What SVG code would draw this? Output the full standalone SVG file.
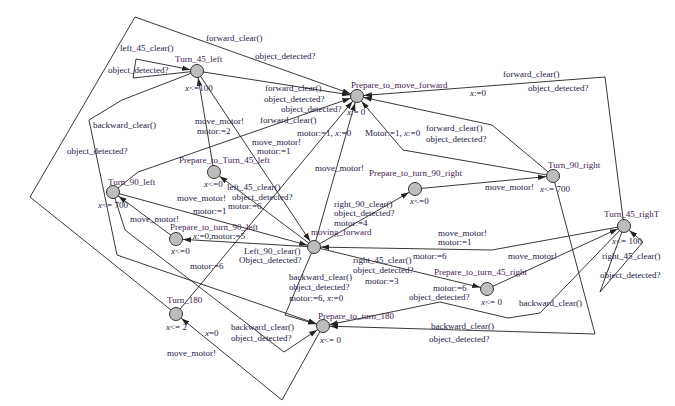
<svg xmlns="http://www.w3.org/2000/svg" width="675" height="406" viewBox="0 0 675 406">
<defs>
<marker id="a" viewBox="0 0 8 6" refX="15" refY="3" markerWidth="8" markerHeight="6" markerUnits="userSpaceOnUse" orient="auto">
<path d="M0,0.3 L8,3 L0,5.7 z" fill="#222"/>
</marker>
</defs>
<style>
.e{fill:none;stroke:#222;stroke-width:0.9;marker-end:url(#a);stroke-linejoin:round}
.n{fill:#bdbdbd;stroke:#333;stroke-width:1}
text{font-family:"Liberation Serif","DejaVu Serif",serif;font-size:9px;fill:#23213f}
.nm{fill:#43224f}
</style>
<rect width="675" height="406" fill="#fff"/>
<g id="connectors">
<path class="e" d="M197,71 L133,78 L136,59 L197,71"/>
<path class="e" d="M176,314 L30,197 L135,17 L357,96"/>
<path class="e" d="M197,71 L357,96"/>
<path class="e" d="M113,192 L138,172 L357,96"/>
<path class="e" d="M197,71 L122,100 L89,120 L117,255 L323,326"/>
<path class="e" d="M113,192 L125,230 L284,352 L323,326"/>
<path class="e" d="M176,314 L357,96"/>
<path class="e" d="M323,326 L282,400 L176,314"/>
<path class="e" d="M314,247 L357,96"/>
<path class="e" d="M553,176 L403,150 L357,96"/>
<path class="e" d="M553,176 L492,125 L357,96"/>
<path class="e" d="M624,226 L605,77 L357,96"/>
<path class="e" d="M553,176 L595,334 L323,326"/>
<path class="e" d="M624,226 L540,313 L508,318 L440,302 L323,326"/>
<path class="e" d="M624,226 L600,292 L643,242 L624,226"/>
<path class="e" d="M624,226 L492,250 L314,247"/>
<path class="e" d="M314,247 L487,289"/>
<path class="e" d="M487,289 L624,226"/>
<path class="e" d="M415,189 L553,176"/>
<path class="e" d="M314,247 L415,189"/>
<path class="e" d="M113,192 L314,247"/>
<path class="e" d="M314,247 L176,239"/>
<path class="e" d="M176,239 L113,192"/>
<path class="e" d="M214,172 L197,71"/>
<path class="e" d="M314,247 L214,172"/>
<path class="e" d="M197,71 L314,247"/>
<path class="e" d="M314,247 L285,315 L323,326"/>
</g>
<g id="edge-labels">
<text x="120" y="51">left_45_clear()</text>
<text x="108" y="73">object_detected?</text>
<text x="206" y="41">forward_clear()</text>
<text x="255" y="59">object_detected?</text>
<text x="265" y="91">forward_clear()</text>
<text x="264" y="102">object_detected?</text>
<text x="281" y="112">object_detected?</text>
<text x="260" y="123">forward_clear()</text>
<text x="93" y="128">backward_clear()</text>
<text x="67" y="154">object_detected?</text>
<text x="195" y="124">move_motor!</text>
<text x="197" y="134">motor:=2</text>
<text x="252" y="145">move_motor!</text>
<text x="257" y="154">motor:=1</text>
<text x="297" y="136">motor:=1, <tspan font-style="italic">x</tspan>:=0</text>
<text x="365" y="136">Motor:=1, <tspan font-style="italic">x</tspan>:=0</text>
<text x="426" y="131">forward_clear()</text>
<text x="426" y="142">object_detected?</text>
<text x="315" y="171">move_motor!</text>
<text x="503" y="77">forward_clear()</text>
<text x="470" y="96"><tspan font-style="italic">x</tspan>:=0</text>
<text x="528" y="91">object_detected?</text>
<text x="485" y="190">move_motor!</text>
<text x="334" y="207">right_90_clear()</text>
<text x="334" y="216">object_detected?</text>
<text x="334" y="226">motor:=4</text>
<text x="227" y="190">left_45_clear()</text>
<text x="232" y="199.5">object_detected?</text>
<text x="228" y="209">motor:=6</text>
<text x="177" y="201">move_motor!</text>
<text x="193" y="214">motor:=1</text>
<text x="130" y="222">move_motor!</text>
<text x="193" y="239"><tspan font-style="italic">x</tspan>:=0,motor:=5</text>
<text x="244" y="254">Left_90_clear()</text>
<text x="239" y="263">Object_detected?</text>
<text x="190" y="269">motor:=6</text>
<text x="438" y="236">move_motor!</text>
<text x="438" y="245">motor:=1</text>
<text x="413" y="259">motor:=6</text>
<text x="353" y="263">right_45_clear()</text>
<text x="353" y="273">object_detected?</text>
<text x="365" y="284">motor:=3</text>
<text x="289" y="280">backward_clear()</text>
<text x="289" y="290">object_detected?</text>
<text x="289" y="301">motor:=6, <tspan font-style="italic">x</tspan>:=0</text>
<text x="508" y="259">move_motor!</text>
<text x="519" y="306">backward_clear()</text>
<text x="602" y="259">right_45_clear()</text>
<text x="600" y="278">object_detected?</text>
<text x="433" y="291">motor:=6</text>
<text x="409" y="300">object_detected?</text>
<text x="231" y="330">backward_clear()</text>
<text x="231" y="341">object_detected?</text>
<text x="431" y="329">backward_clear()</text>
<text x="429" y="342">object_detected?</text>
<text x="205" y="336"><tspan font-style="italic">x</tspan>=0</text>
<text x="167" y="356">move_motor!</text>
</g>
<g id="Turn_45_left"><circle class="n" cx="197" cy="71" r="6.5"/><text class="nm" x="175" y="62">Turn_45_left</text><text x="185" y="91"><tspan font-style="italic">x</tspan>&lt;=100</text></g>
<g id="Prepare_to_move_forward"><circle class="n" cx="357" cy="96" r="6.5"/><text class="nm" x="351" y="88">Prepare_to_move_forward</text><text x="347" y="115"><tspan font-style="italic">x</tspan>:= 0</text></g>
<g id="Turn_90_right"><circle class="n" cx="553" cy="176" r="6.5"/><text class="nm" x="548" y="168">Turn_90_right</text><text x="540" y="192"><tspan font-style="italic">x</tspan>&lt;= 700</text></g>
<g id="Turn_90_left"><circle class="n" cx="113" cy="192" r="6.5"/><text class="nm" x="108" y="185">Turn_90_left</text><text x="98" y="208"><tspan font-style="italic">x</tspan>&lt;= 700</text></g>
<g id="Prepare_to_Turn_45_left"><circle class="n" cx="214" cy="172" r="6.5"/><text class="nm" x="179" y="163">Prepare_to_Turn_45_left</text><text x="204" y="187"><tspan font-style="italic">x</tspan>&lt;=0</text></g>
<g id="Prepare_to_turn_90_left"><circle class="n" cx="176" cy="239" r="6.5"/><text class="nm" x="170" y="230">Prepare_to_turn_90_left</text><text x="171" y="254"><tspan font-style="italic">x</tspan>&lt;=0</text></g>
<g id="Prepare_to_turn_90_right"><circle class="n" cx="415" cy="189" r="6.5"/><text class="nm" x="369" y="176">Prepare_to_turn_90_right</text><text x="410" y="204"><tspan font-style="italic">x</tspan>&lt;=0</text></g>
<g id="moving_forward"><circle class="n" cx="314" cy="247" r="6.5"/><text class="nm" x="311" y="235">moving_forward</text></g>
<g id="Turn_45_righT"><circle class="n" cx="624" cy="226" r="6.5"/><text class="nm" x="604" y="217">Turn_45_righT</text><text x="612" y="244"><tspan font-style="italic">x</tspan>&lt;= 100</text></g>
<g id="Prepare_to_turn_45_right"><circle class="n" cx="487" cy="289" r="6.5"/><text class="nm" x="434" y="275">Prepare_to_turn_45_right</text><text x="481" y="305"><tspan font-style="italic">x</tspan>&lt;= 0</text></g>
<g id="Turn_180"><circle class="n" cx="176" cy="314" r="6.5"/><text class="nm" x="167" y="303">Turn_180</text><text x="166" y="330"><tspan font-style="italic">x</tspan>&lt;= 2</text></g>
<g id="Prepare_to_turn_180"><circle class="n" cx="323" cy="326" r="6.5"/><text class="nm" x="318" y="319">Prepare_to_turn_180</text><text x="320" y="343"><tspan font-style="italic">x</tspan>&lt;= 0</text></g>
</svg>
